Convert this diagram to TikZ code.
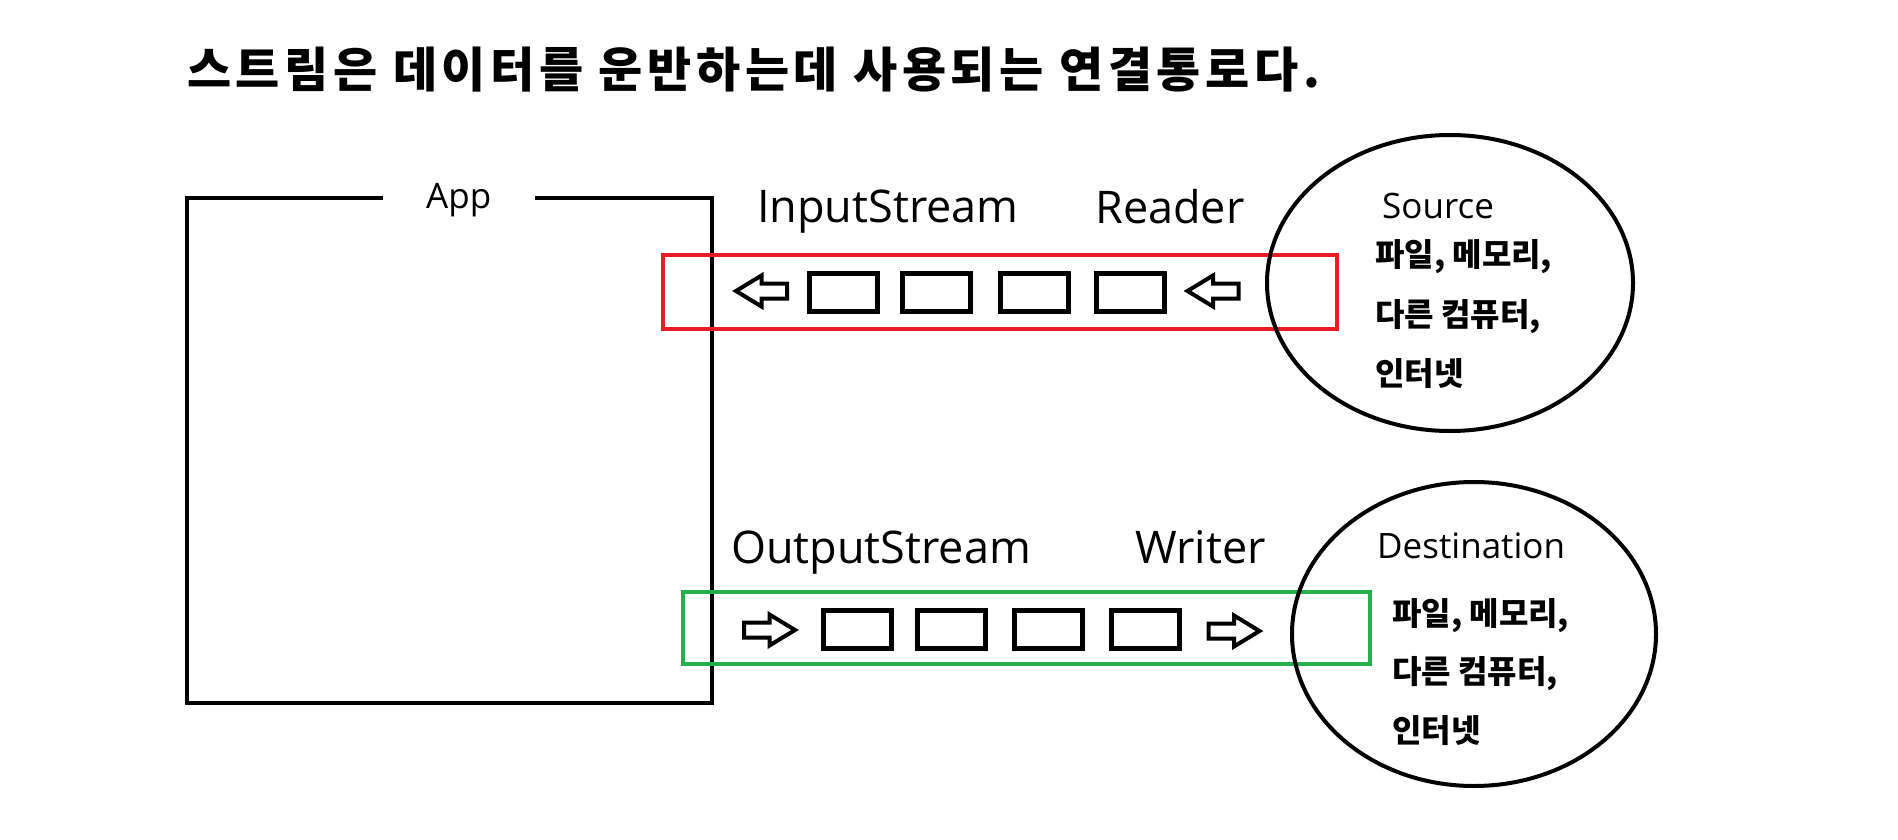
\documentclass[tikz,border=0pt]{standalone}
\usepackage{fontspec}
\setmainfont{Open Sans}
\newfontfamily\kr{Noto Sans CJK KR}
\newfontfamily\krtitle{Noto Sans CJK KR}[LetterSpace=9.5]
\definecolor{paintred}{RGB}{237,28,36}
\definecolor{paintgreen}{RGB}{34,177,76}
\begin{document}
\begin{tikzpicture}[x=1pt,y=-1pt,
  frame/.style={line width=4.6pt},
  redbox/.style={draw=paintred,line width=4.5pt},
  greenbox/.style={draw=paintgreen,line width=4.5pt},
  cell/.style={draw,line width=5pt,minimum width=68pt,minimum height=38pt,inner sep=0pt},
  biglbl/.style={anchor=base west,inner sep=0pt,font=\fontsize{45}{54}\selectfont},
  smalllbl/.style={anchor=base west,inner sep=0pt,font=\fontsize{35}{42}\selectfont},
  krlbl/.style={anchor=base west,inner sep=0pt,font=\kr\bfseries\fontsize{32}{40}\selectfont},
  place/.style={draw,line width=4pt},
  blockarrow/.pic={\draw[line width=4pt,line join=miter]
     (-25.5,-7.5) -- (0,-7.5) -- (0,-15.5) -- (25.5,0) -- (0,15.5) -- (0,7.5) -- (-25.5,7.5) -- cycle;}
]
\useasboundingbox (0,0) rectangle (1898,840);

% title
\node[anchor=base west,inner sep=0pt,font=\krtitle\bfseries\fontsize{48}{56}\selectfont] (title) at (187,88)
  {스트림은 데이터를 운반하는데 사용되는 연결통로다.};

% App frame
\node[smalllbl] (applbl) at (426,208) {App};
\draw[frame] (383,198) -- (187,198) -- (187,703) -- (712,703) -- (712,198) -- (535,198);

% input side
\node[biglbl] (instream) at (757,222) {InputStream};
\node[biglbl] (reader) at (1095,223) {Reader};
\draw[redbox] (663,255) rectangle (1337,329);
\pic[xscale=-1] (inarrowA) at (761.5,291) {blockarrow};
\node[cell] (in1) at (843,292.5) {};
\node[cell] (in2) at (936.5,292.5) {};
\node[cell] (in3) at (1034,292.5) {};
\node[cell] (in4) at (1130.5,292.5) {};
\pic[xscale=-1] (inarrowB) at (1213,291) {blockarrow};

% source
\draw[place] (1450,283) ellipse [x radius=183, y radius=148];
\node[smalllbl] (srclbl) at (1382,218) {Source};
\node[krlbl] (src1) at (1375,266) {파일, 메모리,};
\node[krlbl] (src2) at (1375,326) {다른 컴퓨터,};
\node[krlbl] (src3) at (1375,385) {인터넷};

% output side
\node[biglbl] (outstream) at (731,563) {OutputStream};
\node[biglbl] (writer) at (1135,563) {Writer};
\draw[greenbox] (683,592) rectangle (1370,664);
\pic (outarrowA) at (769.5,630) {blockarrow};
\node[cell] (out1) at (857.5,629) {};
\node[cell] (out2) at (951,629) {};
\node[cell] (out3) at (1048,629) {};
\node[cell] (out4) at (1145,629) {};
\pic (outarrowB) at (1234,631) {blockarrow};

% destination
\draw[place] (1474,634) ellipse [x radius=182, y radius=152];
\node[smalllbl] (dstlbl) at (1377,558) {Destination};
\node[krlbl] (dst1) at (1392,625) {파일, 메모리,};
\node[krlbl] (dst2) at (1392,683) {다른 컴퓨터,};
\node[krlbl] (dst3) at (1392,742) {인터넷};
\end{tikzpicture}
\end{document}
